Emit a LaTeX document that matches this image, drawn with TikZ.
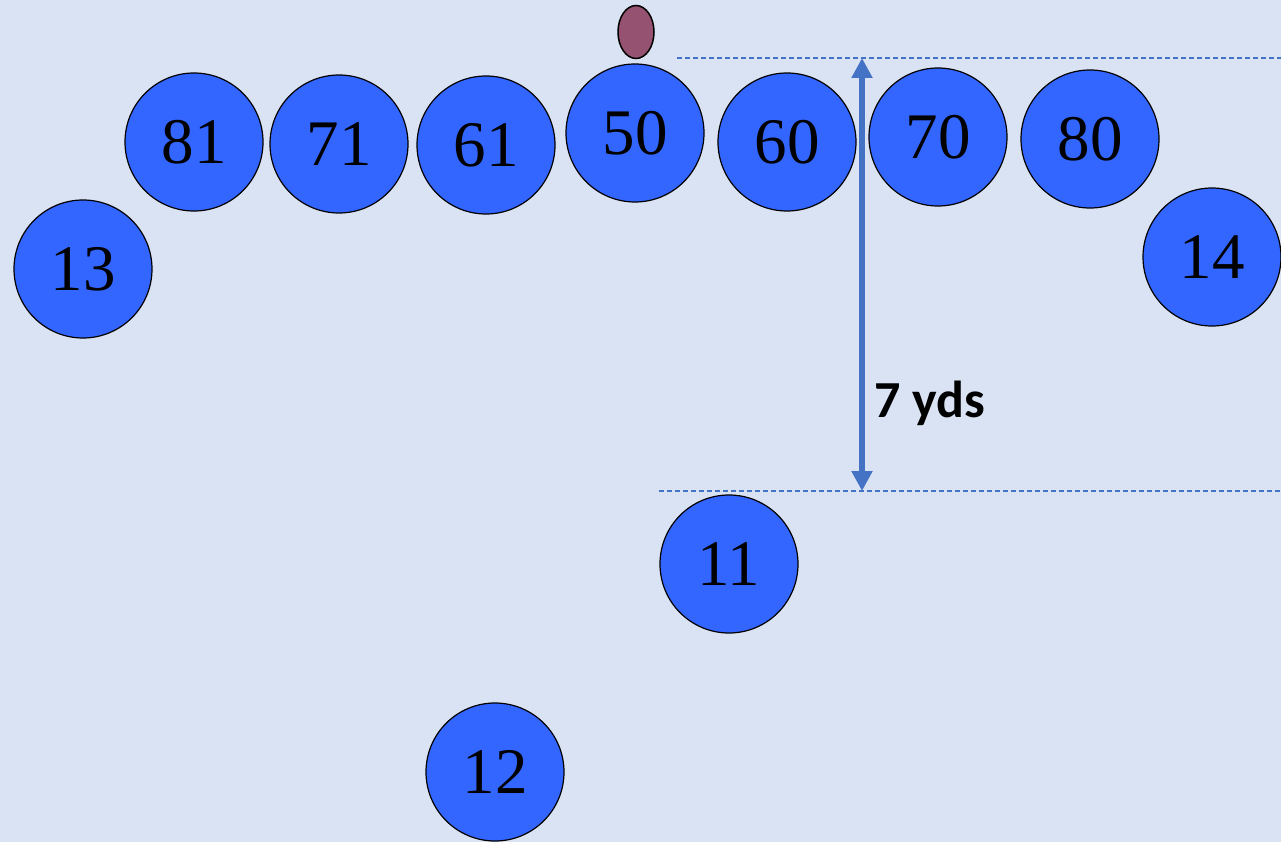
\documentclass[tikz,border=0pt]{standalone}
\usepackage{fontspec}
\setmainfont{Liberation Serif}
\newfontfamily\calib{Carlito}
\usetikzlibrary{arrows.meta,shapes.geometric}
\definecolor{bg}{HTML}{DAE3F3}
\definecolor{player}{HTML}{3366FF}
\definecolor{ballc}{HTML}{955271}
\definecolor{lineblue}{HTML}{4472C4}
\begin{document}
\begin{tikzpicture}[x=1pt,y=-1pt,
  plr/.style={circle,draw=black,line width=1.2pt,fill=player,minimum size=138pt,inner sep=0pt,font=\fontsize{65}{65}\selectfont},
  ballshape/.style={ellipse,draw=black,line width=1.5pt,fill=ballc,minimum width=36pt,minimum height=53pt,inner sep=0pt},
  guide/.style={draw=lineblue,line width=1.3pt,dash pattern=on 5pt off 3pt},
  dim/.style={draw=lineblue,line width=5.5pt,{Triangle[width=20pt,length=20pt]}-{Triangle[width=20pt,length=20pt]}}]
\fill[bg] (0,0) rectangle (1281,842);
\useasboundingbox (0,0) rectangle (1281,842);
\node[plr] (p13) at (83,269) {13};
\node[plr] (p81) at (194,142) {81};
\node[plr] (p71) at (339,144) {71};
\node[plr] (p61) at (486,145) {61};
\node[plr] (p50) at (635,133) {50};
\node[plr] (p60) at (787,142) {60};
\node[plr] (p70) at (938,137) {70};
\node[plr] (p80) at (1090,139) {80};
\node[plr] (p14) at (1212,257) {14};
\node[plr] (p11) at (729,564) {11};
\node[plr] (p12) at (495,772) {12};
\node[ballshape] (ball) at (636,32) {};
\coordinate (t1) at (677,58);
\coordinate (t2) at (1281,58);
\coordinate (b1) at (659,491);
\coordinate (b2) at (1281,491);
\coordinate (at) at (862,58);
\coordinate (ab) at (862,491);
\draw[guide] (t1) -- (t2);
\draw[guide] (b1) -- (b2);
\draw[dim] (at) -- (ab);
\node[anchor=west,inner sep=0pt,font=\calib\bfseries\fontsize{52}{52}\selectfont] (lbl) at (874,403) {7 yds};
\end{tikzpicture}
\end{document}
